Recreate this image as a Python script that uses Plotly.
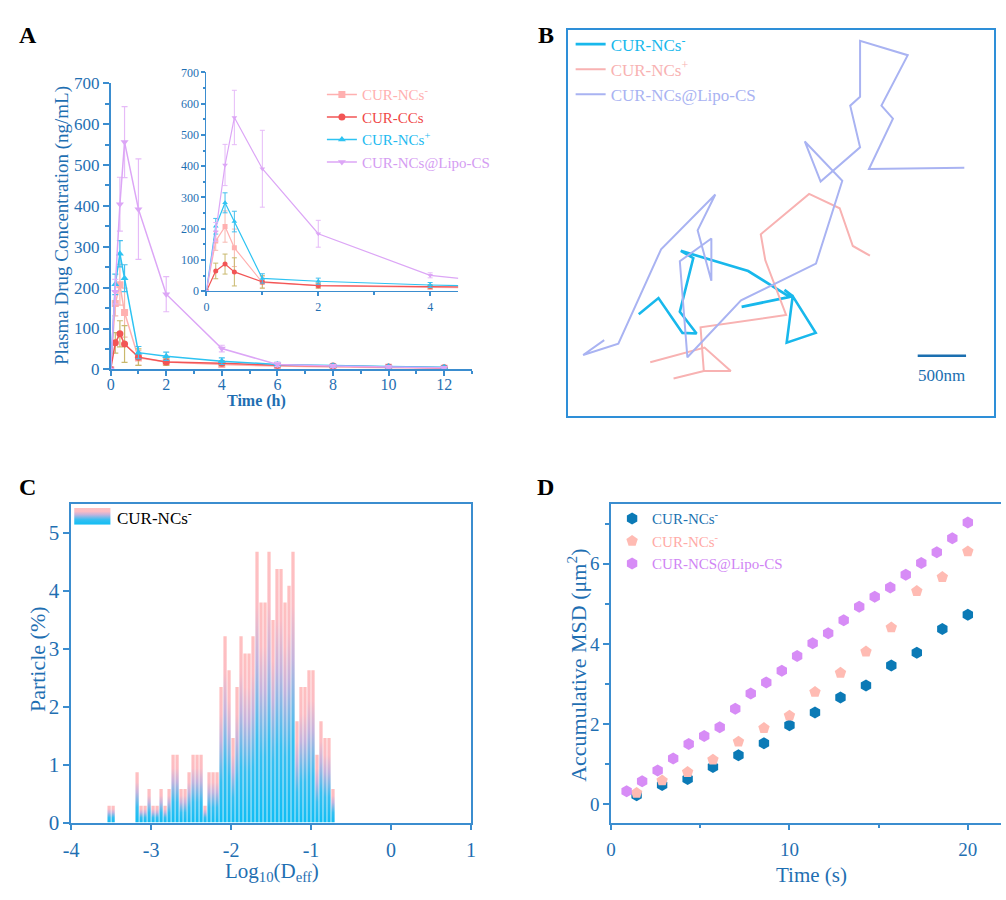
import plotly.graph_objects as go

FONT = "Times New Roman, Liberation Serif, serif"
AXIS_BLUE = "#3b8dcf"
TEXT_BLUE = "#1f6fb2"
W, H = 1006, 900


def hx(p):
    """pixel from the left -> paper fraction"""
    return min(max(p / W, 0.0), 1.0)


def vy(p):
    """pixel from the top -> paper fraction"""
    return min(max(1 - p / H, 0.0), 1.0)


# ---------------- A: plasma drug concentration ----------------
pk_time_h = [0, 0.167, 0.333, 0.5, 1, 2, 4, 6, 8, 10, 12]
pk_ncs_neg = [0, 161, 207, 139, 28, 18, 12, 8, 6, 5, 3]
pk_ncs_neg_sd = [0, 30, 50, 60, 18, 8, 6, 4, 3, 3, 2]
pk_ccs = [0, 65, 87, 62, 30, 18, 15, 10, 8, 6, 4]
pk_ccs_sd = [0, 25, 32, 45, 20, 8, 6, 4, 3, 3, 2]
pk_ncs_pos = [0, 208, 283, 223, 41, 32, 20, 12, 9, 7, 5]
pk_ncs_pos_sd = [0, 25, 32, 33, 15, 10, 8, 5, 4, 3, 3]
pk_lipo = [0, 190, 404, 556, 392, 184, 51, 12, 8, 6, 4]
pk_lipo_sd = [0, 30, 66, 87, 123, 43, 8, 5, 4, 3, 3]

# ---------------- B: particle trajectories (µm) ----------------
traj_neg_x = [0.735, 0.939, 1.187, 1.333, 1.160, 1.299, 1.170, 1.867, 2.299, 1.799, 2.327, 2.565, 2.265, 2.327, 2.242]
traj_neg_y = [1.065, 1.235, 0.871, 0.864, 1.092, 1.653, 1.728, 1.517, 1.245, 1.143, 1.255, 0.871, 0.769, 1.255, 1.320]
traj_pos_x = [0.854, 1.415, 1.687, 1.408, 1.095, None, 1.408, 1.374, 2.259, 2.044, 1.997, 2.497, 2.813, 2.949, 3.126]
traj_pos_y = [0.565, 0.718, 0.473, 0.473, 0.395, None, 0.473, 0.929, 1.058, 1.629, 1.901, 2.323, 2.173, 1.779, 1.677]
traj_lipo_x = [0.378, 0.160, 0.524, 0.966, 1.527, 1.344, 1.486, 1.486, 1.160, 1.238, 1.793, 2.568, 2.840,
               2.452, 2.616, 3.024, 2.922, 3.024, 3.024, 3.517, 3.245, 3.364, 3.116, 4.102]
traj_lipo_y = [0.796, 0.640, 0.759, 1.745, 2.316, 1.942, 1.415, 1.857, 1.619, 0.616, 1.211, 1.595, 2.459,
               2.871, 2.452, 2.810, 3.245, 3.337, 3.922, 3.772, 3.245, 3.109, 2.582, 2.595]
scale_bar_um = 0.5
scale_bar_x0, scale_bar_y = 3.62, 0.633

# ---------------- C: Deff distribution ----------------
deff_bin_left = [-3.55, -3.50,
                 -3.20, -3.15, -3.10, -3.05, -3.00, -2.95, -2.90, -2.85, -2.80, -2.75,
                 -2.70, -2.65, -2.60, -2.55, -2.50, -2.45, -2.40, -2.35, -2.30, -2.25,
                 -2.20, -2.15, -2.10, -2.05, -2.00, -1.95, -1.90, -1.85, -1.80, -1.75,
                 -1.70, -1.65, -1.60, -1.55, -1.50, -1.45, -1.40, -1.35, -1.30, -1.25,
                 -1.20, -1.15, -1.10, -1.05, -1.00, -0.95, -0.90, -0.85, -0.80, -0.75]
deff_percent = [0.29, 0.29,
                0.87, 0.29, 0.29, 0.58, 0.29, 0.29, 0.58, 0.29, 0.58, 1.17,
                1.17, 0.58, 0.58, 0.87, 1.17, 1.17, 1.17, 0.29, 0.87, 0.87,
                0.87, 2.34, 3.22, 2.63, 1.46, 2.34, 3.22, 2.92, 2.92, 3.22,
                4.68, 3.80, 3.80, 4.68, 3.50, 4.38, 4.38, 3.80, 4.09, 4.68,
                1.75, 2.34, 2.34, 2.63, 2.63, 1.17, 1.75, 1.46, 1.46, 0.58]
deff_bin_width = 0.05

# ---------------- D: accumulative MSD ----------------
msd_t_14 = [1.43, 2.86, 4.29, 5.71, 7.14, 8.57, 10.0, 11.43, 12.86, 14.29, 15.71, 17.14, 18.57, 20.0]
msd_ncs_a = [0.22, 0.48, 0.63, 0.93, 1.22, 1.52, 1.97, 2.29, 2.66, 2.96, 3.46, 3.78, 4.37, 4.73]
msd_ncs_b = [0.28, 0.59, 0.80, 1.11, 1.56, 1.90, 2.21, 2.80, 3.28, 3.81, 4.41, 5.32, 5.67, 6.31]
msd_t_23 = [0.87, 1.74, 2.61, 3.48, 4.35, 5.22, 6.09, 6.96, 7.83, 8.70, 9.57, 10.43, 11.30, 12.17,
            13.04, 13.91, 14.78, 15.65, 16.52, 17.39, 18.26, 19.13, 20.0]
msd_lipo = [0.32, 0.57, 0.84, 1.14, 1.50, 1.70, 1.92, 2.38, 2.76, 3.04, 3.33, 3.70, 4.02, 4.27,
            4.59, 4.93, 5.18, 5.41, 5.73, 6.02, 6.29, 6.64, 7.03]

fig = go.Figure()

# ---- panel A traces (main axes + inset) ----
pk_series = [
    ("CUR-NCs<sup>-</sup>", pk_ncs_neg, pk_ncs_neg_sd, "#ffb0b0", "#f7b9b0", "square", "#ffb0b0"),
    ("CUR-CCs", pk_ccs, pk_ccs_sd, "#f25555", "#c9b86c", "circle", "#f04848"),
    ("CUR-NCs<sup>+</sup>", pk_ncs_pos, pk_ncs_pos_sd, "#2ec3f2", "#45bfee", "triangle-up", "#22baf0"),
    ("CUR-NCs@Lipo-CS", pk_lipo, pk_lipo_sd, "#dca6f6", "#e6bbf8", "triangle-down", "#d49cf2"),
]
for name, vals, sd, col, ecol, sym, tcol in pk_series:
    label = f"<span style='color:{tcol}'>{name}</span>"
    fig.add_trace(go.Scatter(
        x=pk_time_h, y=vals, mode="lines+markers", name=label,
        line=dict(color=col, width=1.5), marker=dict(color=col, symbol=sym, size=7),
        error_y=dict(type="data", array=sd, color=ecol, thickness=1.2, width=3),
        xaxis="x", yaxis="y", legend="legend"))
for name, vals, sd, col, ecol, sym, tcol in pk_series:
    fig.add_trace(go.Scatter(
        x=pk_time_h, y=vals, mode="lines+markers", showlegend=False,
        line=dict(color=col, width=1.2), marker=dict(color=col, symbol=sym, size=5),
        error_y=dict(type="data", array=sd, color=ecol, thickness=1, width=2.5),
        xaxis="x2", yaxis="y2"))

# ---- panel B trajectories ----
traj = [
    ("CUR-NCs<sup>-</sup>", traj_neg_x, traj_neg_y, "#18b8ec", 2.6),
    ("CUR-NCs<sup>+</sup>", traj_pos_x, traj_pos_y, "#f8b2b2", 2.0),
    ("CUR-NCs@Lipo-CS", traj_lipo_x, traj_lipo_y, "#a9b3f2", 2.0),
]
for name, tx, ty, col, lw in traj:
    fig.add_trace(go.Scatter(
        x=tx, y=ty, mode="lines", name=f"<span style='color:{col}'>{name}</span>",
        line=dict(color=col, width=lw), xaxis="x3", yaxis="y3", legend="legend2",
        connectgaps=False))
fig.add_trace(go.Scatter(
    x=[scale_bar_x0, scale_bar_x0 + scale_bar_um], y=[scale_bar_y, scale_bar_y], mode="lines",
    line=dict(color="#1b6fb0", width=2.5), showlegend=False, xaxis="x3", yaxis="y3"))

# ---- panel C histogram bars with vertical gradient ----
bar_grad = [[0, "#10bdf4"], [0.3, "#36bff1"], [0.6, "#c4b3dd"], [0.8, "#fcbcc3"], [1, "#ffc0c0"]]
bar_w = deff_bin_width * 0.82
for left, h in zip(deff_bin_left, deff_percent):
    x0, x1 = left + 0.004, left + 0.004 + bar_w
    fig.add_trace(go.Scatter(
        x=[x0, x0, x1, x1, x0], y=[0, h, h, 0, 0], mode="lines", fill="toself",
        line=dict(width=0), fillcolor="#9fc8ee",
        fillgradient=dict(type="vertical", colorscale=bar_grad),
        showlegend=False, hoverinfo="skip", xaxis="x4", yaxis="y4"))
# legend key patch for panel C
fig.add_trace(go.Scatter(
    x=[0, 0, 1, 1, 0], y=[0, 1, 1, 0, 0], mode="lines", fill="toself",
    line=dict(width=0), fillgradient=dict(type="vertical", colorscale=bar_grad),
    showlegend=False, hoverinfo="skip", xaxis="x5", yaxis="y5"))

# ---- panel D MSD ----
msd_series = [
    ("CUR-NCs<sup>-</sup>", msd_t_14, msd_ncs_a, "#0b7ab6", "hexagon", "#1a72b0"),
    ("CUR-NCs<sup>-</sup>", msd_t_14, msd_ncs_b, "#ffbbb3", "pentagon", "#ffaaa6"),
    ("CUR-NCS@Lipo-CS", msd_t_23, msd_lipo, "#d78cf6", "hexagon", "#d084f4"),
]
for name, tx, ty, col, sym, tcol in msd_series:
    fig.add_trace(go.Scatter(
        x=tx, y=ty, mode="markers", name=f"<span style='color:{tcol}'>{name}</span>",
        marker=dict(color=col, symbol=sym, size=12, line=dict(width=0)),
        xaxis="x6", yaxis="y6", legend="legend4"))


def axis(**kw):
    base = dict(showline=True, linecolor=AXIS_BLUE, linewidth=1.5, showgrid=False, zeroline=False,
                ticks="outside", tickcolor=AXIS_BLUE, tickwidth=1.5, ticklen=6,
                tickfont=dict(family=FONT, size=17, color=TEXT_BLUE))
    base.update(kw)
    return base


hidden = dict(visible=False, showgrid=False, zeroline=False, range=[0, 1], fixedrange=True)

fig.update_layout(
    width=W, height=H, margin=dict(l=0, r=0, t=0, b=0),
    paper_bgcolor="white", plot_bgcolor="rgba(0,0,0,0)",
    font=dict(family=FONT, color=TEXT_BLUE),
    # A main
    xaxis=axis(domain=[hx(104), hx(470)], range=[0, 13], tickvals=[0, 2, 4, 6, 8, 10, 12], ticklen=5,
               ticklabelstandoff=-5, tickfont=dict(family=FONT, size=16, color=TEXT_BLUE),
               minor=dict(ticks="outside", dtick=1, tick0=0, ticklen=3, tickcolor=AXIS_BLUE), anchor="y"),
    yaxis=axis(domain=[vy(369), vy(76)], range=[0, 700], dtick=100,
               minor=dict(ticks="outside", dtick=50, tick0=0, ticklen=3.5, tickcolor=AXIS_BLUE), anchor="x"),
    # A inset
    xaxis2=axis(domain=[hx(201), hx(456)], range=[0, 4.5], tickvals=[0, 2, 4], ticklen=4, linewidth=1.2,
                tickfont=dict(family=FONT, size=12, color=TEXT_BLUE),
                minor=dict(ticks="outside", dtick=1, tick0=0, ticklen=2.5, tickcolor=AXIS_BLUE), anchor="y2"),
    yaxis2=axis(domain=[vy(289), vy(65)], range=[0, 700], dtick=100, ticklen=4, linewidth=1.2,
                tickfont=dict(family=FONT, size=12, color=TEXT_BLUE),
                minor=dict(ticks="outside", dtick=50, tick0=0, ticklen=2.5, tickcolor=AXIS_BLUE), anchor="x2"),
    # B
    xaxis3=dict(domain=[hx(567), hx(999)], range=[0, 4.41], showline=True, mirror=True,
                linecolor="#2e8fd8", linewidth=2, showticklabels=False, ticks="", showgrid=False,
                zeroline=False, anchor="y3"),
    yaxis3=dict(domain=[vy(417), vy(22)], range=[0, 4.03], showline=True, mirror=True,
                linecolor="#2e8fd8", linewidth=2, showticklabels=False, ticks="", showgrid=False,
                zeroline=False, anchor="x3"),
    # C
    xaxis4=axis(domain=[hx(64), hx(469)], range=[-4, 1], mirror=True, tickvals=[-4, -3, -2, -1, 0, 1],
                ticktext=["-4", "-3", "-2", "-1", "0", "1"], ticklabelstandoff=3,
                tickfont=dict(family=FONT, size=20, color=TEXT_BLUE), anchor="y4"),
    yaxis4=axis(domain=[vy(833), vy(507)], range=[0, 5.5], mirror=True, dtick=1,
                tickfont=dict(family=FONT, size=21, color=TEXT_BLUE), anchor="x4"),
    xaxis5=dict(hidden, domain=[hx(67), hx(104)], anchor="y5"),
    yaxis5=dict(hidden, domain=[vy(528), vy(511)], anchor="x5"),
    # D (top frame line only; the right side runs off the page)
    xaxis6=axis(domain=[hx(611), 1.0], range=[0, 21.86], mirror=True, tickvals=[0, 10, 20],
                ticklabelstandoff=3,
                minor=dict(ticks="outside", dtick=5, tick0=0, ticklen=4, tickcolor=AXIS_BLUE),
                tickfont=dict(family=FONT, size=19, color=TEXT_BLUE), anchor="y6"),
    yaxis6=axis(domain=[vy(833), vy(507)], range=[-0.46, 7.49], tickvals=[0, 2, 4, 6],
                minor=dict(ticks="outside", dtick=1, tick0=0, ticklen=4, tickcolor=AXIS_BLUE),
                tickfont=dict(family=FONT, size=19, color=TEXT_BLUE), anchor="x6"),
    legend=dict(x=hx(318), y=vy(71), xanchor="left", yanchor="top", bgcolor="rgba(0,0,0,0)",
                font=dict(family=FONT, size=15), itemwidth=30, tracegroupgap=0),
    legend2=dict(x=hx(570), y=vy(18), xanchor="left", yanchor="top", bgcolor="rgba(0,0,0,0)",
                 font=dict(family=FONT, size=17), itemwidth=30, tracegroupgap=0),
    legend4=dict(x=hx(612), y=vy(505), xanchor="left", yanchor="top", bgcolor="rgba(0,0,0,0)",
                 font=dict(family=FONT, size=15), itemwidth=30, tracegroupgap=0, itemsizing="constant"),
)

annotations = []
for letter, x, y in [("A", 20, 27), ("B", 545, 27), ("C", 20, 489), ("D", 545, 489)]:
    annotations.append(dict(text=f"<b>{letter}</b>", x=hx(x), y=vy(y), xref="paper", yref="paper",
                            showarrow=False, xanchor="center", yanchor="middle",
                            font=dict(family=FONT, size=24, color="black")))
titles = [
    ("Plasma Drug Concentration (ng/mL)", 55, 222, -90, 19),
    ("<b>Time (h)</b>", 252, 401, 0, 16),
    ("Particle (%)", 30, 666, -90, 22),
    ("Log<sub>10</sub>(D<sub>eff</sub>)", 267, 884, 0, 21),
    ("Accumulative MSD (μm<sup>2</sup>)", 577, 672, -90, 22),
    ("Time (s)", 814, 887, 0, 21),
]
for txt, x, y, ang, sz in titles:
    annotations.append(dict(text=txt, x=hx(x), y=vy(y), xref="paper", yref="paper", showarrow=False,
                            textangle=ang, xanchor="center", yanchor="middle",
                            font=dict(family=FONT, size=sz, color=TEXT_BLUE)))
annotations.append(dict(text="500nm", x=scale_bar_x0 + scale_bar_um / 2, y=0.43, xref="x3", yref="y3",
                        showarrow=False, xanchor="center", yanchor="middle",
                        font=dict(family=FONT, size=17, color="#1b6fb0")))
annotations.append(dict(text="CUR-NCs<sup>-</sup>", x=hx(108), y=vy(520), xref="paper", yref="paper",
                        showarrow=False, xanchor="left", yanchor="middle",
                        font=dict(family=FONT, size=17, color="black")))
fig.update_layout(annotations=annotations)

fig.write_html("out.html")
